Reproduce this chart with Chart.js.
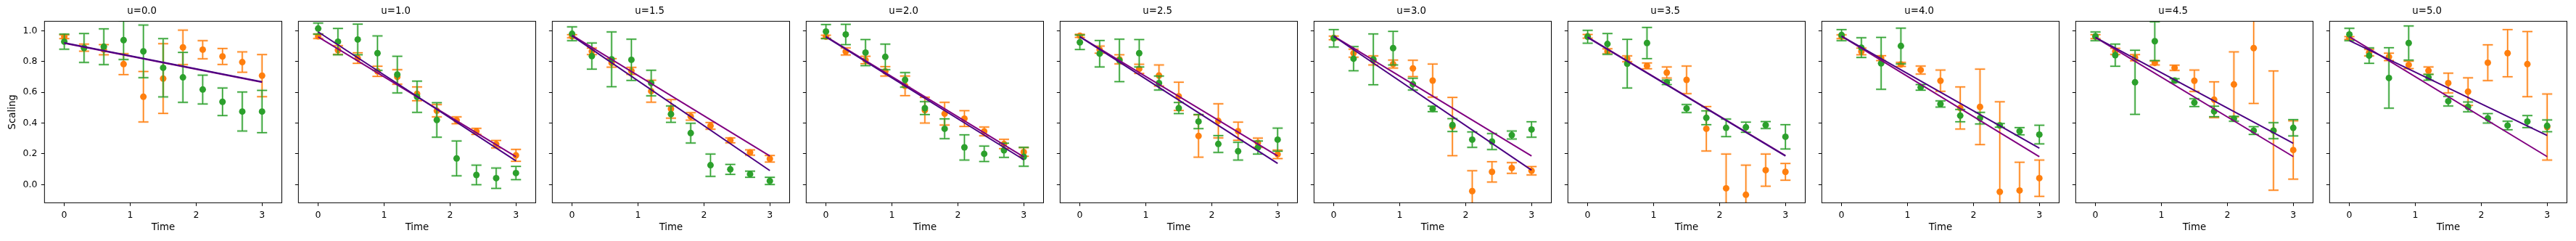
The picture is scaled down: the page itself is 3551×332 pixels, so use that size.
<!DOCTYPE html>
<html>
<head>
<meta charset="utf-8">
<script src="https://cdn.jsdelivr.net/npm/chart.js@4.4.0/dist/chart.umd.min.js"></script>
<style>
  html, body { margin: 0; padding: 0; background: #fff; }
  #wrap { position: relative; width: 3551px; height: 332px; overflow: hidden; background: #fff; }
  #wrap canvas { position: absolute; top: 0; }
</style>
</head>
<body>
<div id="wrap"></div>
<script>
// --- data ---
const uLabels = ['u=0.0', 'u=1.0', 'u=1.5', 'u=2.0', 'u=2.5', 'u=3.0', 'u=3.5', 'u=4.0', 'u=4.5', 'u=5.0'];
const timeVals = [0, 0.3, 0.6, 0.9, 1.2, 1.5, 1.8, 2.1, 2.4, 2.7, 3.0];
const lineTimes = [0, 3];
const xTicks = [0, 1, 2, 3];
const yTicks = [0, 0.2, 0.4, 0.6, 0.8, 1.0];

const orangeMean = [
  [0.961, 0.890, 0.877, 0.783, 0.571, 0.689, 0.892, 0.877, 0.833, 0.796, 0.708],
  [0.964, 0.874, 0.822, 0.736, 0.700, 0.590, 0.480, 0.418, 0.346, 0.263, 0.190],
  [0.964, 0.866, 0.791, 0.739, 0.607, 0.492, 0.443, 0.382, 0.288, 0.209, 0.168],
  [0.961, 0.865, 0.810, 0.736, 0.642, 0.484, 0.461, 0.429, 0.346, 0.264, 0.212],
  [0.967, 0.877, 0.814, 0.752, 0.709, 0.574, 0.316, 0.414, 0.347, 0.272, 0.197],
  [0.953, 0.854, 0.807, 0.783, 0.755, 0.676, 0.377, -0.042, 0.083, 0.108, 0.090],
  [0.964, 0.866, 0.818, 0.772, 0.728, 0.681, 0.363, -0.024, -0.066, 0.094, 0.083],
  [0.961, 0.865, 0.822, 0.781, 0.745, 0.675, 0.498, 0.505, -0.047, -0.038, 0.042],
  [0.961, 0.866, 0.825, 0.791, 0.759, 0.675, 0.552, 0.651, 0.887, 0.351, 0.225],
  [0.953, 0.858, 0.830, 0.778, 0.741, 0.660, 0.604, 0.792, 0.854, 0.783, 0.374]
];
const orangeErr = [
  [0.012, 0.023, 0.033, 0.068, 0.164, 0.226, 0.112, 0.059, 0.052, 0.066, 0.137],
  [0.014, 0.028, 0.034, 0.033, 0.047, 0.045, 0.040, 0.022, 0.020, 0.024, 0.039],
  [0.010, 0.021, 0.028, 0.023, 0.071, 0.060, 0.024, 0.022, 0.016, 0.017, 0.021],
  [0.010, 0.023, 0.024, 0.031, 0.064, 0.084, 0.074, 0.051, 0.028, 0.030, 0.028],
  [0.010, 0.023, 0.030, 0.030, 0.068, 0.092, 0.137, 0.111, 0.059, 0.030, 0.028],
  [0.012, 0.026, 0.030, 0.026, 0.053, 0.107, 0.189, 0.132, 0.066, 0.035, 0.027],
  [0.012, 0.017, 0.019, 0.019, 0.036, 0.090, 0.144, 0.222, 0.193, 0.104, 0.054],
  [0.012, 0.022, 0.016, 0.013, 0.026, 0.069, 0.137, 0.245, 0.585, 0.184, 0.118],
  [0.013, 0.020, 0.020, 0.013, 0.017, 0.070, 0.116, 0.211, 0.359, 0.387, 0.189],
  [0.009, 0.021, 0.024, 0.024, 0.024, 0.064, 0.090, 0.116, 0.153, 0.212, 0.215]
];
const greenMean = [
  [0.929, 0.888, 0.896, 0.939, 0.866, 0.759, 0.697, 0.618, 0.538, 0.475, 0.475],
  [1.014, 0.929, 0.943, 0.854, 0.715, 0.571, 0.420, 0.170, 0.063, 0.042, 0.075],
  [0.980, 0.835, 0.814, 0.811, 0.660, 0.458, 0.335, 0.126, 0.099, 0.068, 0.024],
  [0.995, 0.976, 0.858, 0.830, 0.681, 0.497, 0.363, 0.242, 0.200, 0.223, 0.181],
  [0.925, 0.851, 0.807, 0.854, 0.660, 0.497, 0.410, 0.264, 0.217, 0.241, 0.292],
  [0.951, 0.818, 0.814, 0.887, 0.653, 0.492, 0.387, 0.292, 0.280, 0.322, 0.358],
  [0.961, 0.914, 0.786, 0.920, 0.665, 0.495, 0.434, 0.369, 0.373, 0.387, 0.311],
  [0.972, 0.890, 0.788, 0.901, 0.632, 0.524, 0.448, 0.432, 0.385, 0.347, 0.325],
  [0.964, 0.841, 0.665, 0.932, 0.676, 0.533, 0.476, 0.428, 0.351, 0.351, 0.369],
  [0.976, 0.838, 0.693, 0.920, 0.697, 0.542, 0.505, 0.431, 0.384, 0.410, 0.382]
];
const greenErr = [
  [0.049, 0.094, 0.116, 0.126, 0.171, 0.189, 0.162, 0.094, 0.090, 0.127, 0.137],
  [0.036, 0.086, 0.100, 0.112, 0.119, 0.101, 0.112, 0.113, 0.064, 0.066, 0.043],
  [0.045, 0.085, 0.178, 0.134, 0.083, 0.053, 0.064, 0.073, 0.032, 0.020, 0.024],
  [0.046, 0.066, 0.085, 0.083, 0.047, 0.042, 0.064, 0.082, 0.050, 0.046, 0.061],
  [0.047, 0.086, 0.138, 0.089, 0.045, 0.036, 0.046, 0.055, 0.058, 0.042, 0.075],
  [0.057, 0.078, 0.165, 0.109, 0.038, 0.018, 0.042, 0.050, 0.052, 0.026, 0.050],
  [0.042, 0.067, 0.158, 0.101, 0.015, 0.026, 0.045, 0.057, 0.033, 0.022, 0.079],
  [0.036, 0.064, 0.169, 0.116, 0.018, 0.020, 0.040, 0.038, 0.012, 0.024, 0.061],
  [0.028, 0.072, 0.208, 0.126, 0.012, 0.025, 0.034, 0.016, 0.025, 0.052, 0.053],
  [0.040, 0.050, 0.196, 0.111, 0.019, 0.031, 0.032, 0.031, 0.028, 0.039, 0.038]
];
// fit lines: value at t=0 and t=3
const indigoLine = [
  [0.921, 0.668], [0.992, 0.154], [0.967, 0.091], [0.960, 0.162], [0.961, 0.138],
  [0.964, 0.094], [0.956, 0.186], [0.964, 0.237], [0.956, 0.269], [0.936, 0.319]
];
const purpleLine = [
  [0.919, 0.665], [0.960, 0.181], [0.970, 0.186], [0.962, 0.180], [0.961, 0.186],
  [0.964, 0.186], [0.958, 0.188], [0.964, 0.181], [0.956, 0.182], [0.961, 0.182]
];

// --- layout ---
const PITCH = 350, AXIS_W = 61.33, AREA_W = 330, CANVAS_W = 393;
const X_AXIS_H = 52.67;

Chart.defaults.font.family = "'DejaVu Sans', sans-serif";
Chart.defaults.color = '#000';

// vertical error bars with caps, drawn under the markers of that dataset
const errorBars = {
  id: 'errorBars',
  beforeDatasetDraw(chart, args) {
    const ds = chart.data.datasets[args.index];
    if (!ds.errors) return;
    const ctx = chart.ctx, a = chart.chartArea;
    const xs = chart.scales.x, ys = chart.scales.y;
    ctx.save();
    ctx.beginPath();
    ctx.rect(a.left, a.top, a.right - a.left, a.bottom - a.top);
    ctx.clip();
    [[4, 0.15], [1.5, 1]].forEach(([w, alpha]) => {
      ctx.globalAlpha = alpha;
      ctx.strokeStyle = ds.backgroundColor;
      ctx.lineWidth = w;
      ds.data.forEach((p, i) => {
        const px = xs.getPixelForValue(p.x);
        const top = ys.getPixelForValue(p.y + ds.errors[i]);
        const bot = ys.getPixelForValue(p.y - ds.errors[i]);
        ctx.beginPath();
        ctx.moveTo(px, top); ctx.lineTo(px, bot);
        ctx.moveTo(px - 7, top); ctx.lineTo(px + 7, top);
        ctx.moveTo(px - 7, bot); ctx.lineTo(px + 7, bot);
        ctx.stroke();
      });
    });
    ctx.restore();
  }
};

// axes box like matplotlib spines
const frame = {
  id: 'frame',
  afterDatasetsDraw(chart) {
    const ctx = chart.ctx, a = chart.chartArea;
    ctx.save();
    ctx.strokeStyle = '#000';
    ctx.lineWidth = 1;
    ctx.strokeRect(a.left, a.top, a.right - a.left, a.bottom - a.top);
    ctx.restore();
  }
};

const wrap = document.getElementById('wrap');

uLabels.forEach((label, k) => {
  const canvas = document.createElement('canvas');
  canvas.width = CANVAS_W;
  canvas.height = 332;
  canvas.style.left = (PITCH * k) + 'px';
  wrap.appendChild(canvas);

  const pts = (means) => timeVals.map((t, i) => ({ x: t, y: means[i] }));
  const line = (ends) => lineTimes.map((t, i) => ({ x: t, y: ends[i] }));

  new Chart(canvas, {
    type: 'scatter',
    data: {
      datasets: [
        { data: line(indigoLine[k]), showLine: true, borderColor: '#4b0082', borderWidth: 2, pointRadius: 0, clip: 0 },
        { data: line(purpleLine[k]), showLine: true, borderColor: '#800080', borderWidth: 2, pointRadius: 0, clip: 0 },
        { data: pts(greenMean[k]), errors: greenErr[k], backgroundColor: '#2ca02c', borderWidth: 0, pointRadius: 4.5, clip: 0 },
        { data: pts(orangeMean[k]), errors: orangeErr[k], backgroundColor: '#ff7f0e', borderWidth: 0, pointRadius: 4.5, clip: 0 }
      ]
    },
    options: {
      responsive: false,
      animation: false,
      events: [],
      layout: { padding: { left: 0, right: CANVAS_W - AXIS_W - AREA_W, top: 0, bottom: 0 } },
      plugins: {
        legend: { display: false },
        tooltip: { enabled: false },
        title: {
          display: true,
          text: label,
          font: { size: 13.3, weight: 'normal' },
          color: '#000',
          padding: { top: 8, bottom: 5.37 }
        }
      },
      scales: {
        x: {
          type: 'linear',
          min: -0.3,
          max: 3.3,
          afterBuildTicks: (s) => { s.ticks = xTicks.map(v => ({ value: v })); },
          afterFit: (s) => { s.height = X_AXIS_H; },
          grid: { display: true, drawOnChartArea: false, drawTicks: true, tickLength: 4.5, color: '#000' },
          border: { display: false },
          ticks: { font: { size: 12.5 }, color: '#000', padding: 5, maxRotation: 0, callback: (v) => String(v) },
          title: { display: true, text: 'Time', font: { size: 13.3 }, color: '#000', padding: { top: 0, bottom: 10 } }
        },
        y: {
          min: -0.1179,
          max: 1.0613,
          afterBuildTicks: (s) => { s.ticks = yTicks.map(v => ({ value: v })); },
          afterFit: (s) => { s.width = AXIS_W; },
          grid: { display: true, drawOnChartArea: false, drawTicks: true, tickLength: 4.5, color: '#000' },
          border: { display: false },
          ticks: {
            font: { size: 12.5 },
            color: '#000',
            padding: 5.5,
            callback: (v) => k === 0 ? v.toFixed(1) : ''
          },
          title: { display: k === 0, text: 'Scaling', font: { size: 13.3 }, color: '#000', padding: { top: 9.5, bottom: 0 } }
        }
      }
    },
    plugins: [errorBars, frame]
  });
});
</script>
</body>
</html>
